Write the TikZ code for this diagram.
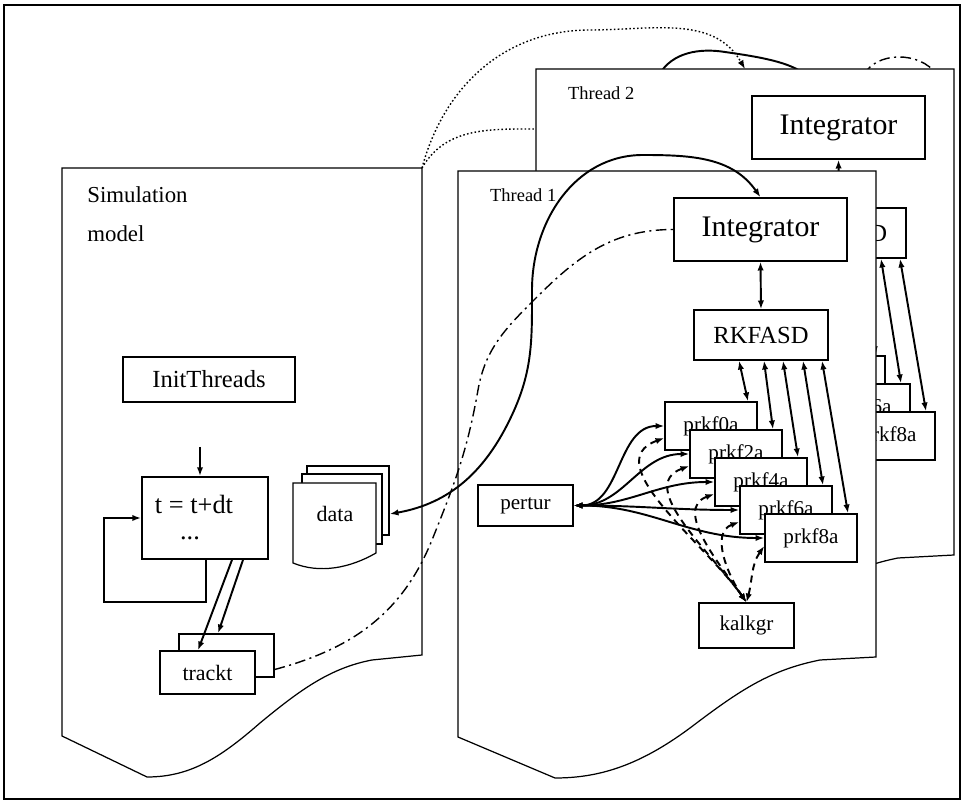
\documentclass[tikz,border=0pt]{standalone}
\usepackage{fontspec}
\setmainfont{Liberation Serif}
\usetikzlibrary{arrows.meta,calc}
\newcommand{\fz}[1]{\fontsize{#1}{#1}\selectfont}
\tikzset{
  arr/.tip={Latex[length=5pt,width=3.6pt]},
  bx/.style n args={2}{draw, fill=white, line width=0.8pt, minimum width=#1*0.02cm, minimum height=#2*0.02cm, inner sep=0pt},
  frame/.style={draw, fill=white, line width=0.7pt},
  dbl/.style={{arr}-{arr}, line width=1.1pt},
  one/.style={-{arr}, line width=1.1pt},
  dsh/.style={{arr}-{arr}, line width=1.1pt, dash pattern=on 4pt off 3pt},
  dashdot/.style={line width=0.8pt, dash pattern=on 6pt off 2.5pt on 1.2pt off 2.5pt},
  dots/.style={line width=0.8pt, dash pattern=on 0.9pt off 1.3pt},
}
\newcommand{\threadframe}{%
  \path[frame] (458,-171) -- (876,-171) -- (876,-657) -- (820,-660)
    .. controls (770,-670) and (740,-690) .. (690,-728)
    .. controls (640,-765) and (600,-778) .. (555,-778)
    -- (458,-737) -- cycle;}
% #1 prefix, #2 dx, #3 dy, #4 = 3 to label every box, 0 to label only boxes left uncovered
\newcommand{\threadbody}[4]{%
  \node[bx={173}{63}, font=\fz{17}] (#1integ) at ({760.5+#2},{-229.5+#3}) {Integrator\hspace{0.45cm}};
  \node[bx={134}{50}, font=\fz{14}] (#1rk) at ({761+#2},{-335+#3}) {\ifnum#4>0 RKFASD\fi};
  \draw[dbl] (#1integ.south) -- (#1rk.north);
  \node[bx={95}{41}, font=\fz{12}] (#1pertur) at ({525.5+#2},{-505.5+#3}) {\ifnum#4>0 pertur\fi};
  \node[bx={95}{45}, font=\fz{12}] (#1kalk) at ({746.5+#2},{-625.5+#3}) {\ifnum#4>0 kalkgr\fi};
  \foreach \i/\n in {0/0,1/2,2/4,3/6,4/8}{
    \node[bx={92}{48}, font=\fz{12}] (#1p\n) at ({711+25*\i+#2},{-426-28*\i+#3}) {\ifnum\numexpr#4+\i\relax>2 prkf\n a\fi};}
  \foreach \n/\dx in {0/-22,2/3,4/22,6/42,8/61}{
    \draw[dbl] ($(#1rk.south)+(\dx,0)$) -- ($(#1p\n.north)+(37,0)$);}
  \foreach \n in {0,2,4,6,8}{
    \draw[dbl] (#1pertur.east) to[out=0,in=180] (#1p\n.west);}
  \foreach \n in {0,2,4,6}{
    \draw[dsh] ($(#1p\n.west)+(0,-12)$) to[out=200,in=125] (#1kalk.north);}
  \draw[dsh] ($(#1p8.west)+(0,-8)$) to[out=235,in=75] (#1kalk.north);
}
\begin{document}
\begin{tikzpicture}[x=0.02cm,y=0.02cm]
\useasboundingbox (0,0) rectangle (964,-803);
\draw[line width=1pt] (4,-5) rectangle (960,-799);

% curves behind thread 2
\draw[line width=1.1pt] (659,-75) .. controls (672,-52) and (700,-48) .. (725,-52)
  .. controls (760,-57) and (790,-62) .. (806,-75);
\draw[dashdot] (864,-75) .. controls (875,-52) and (920,-50) .. (937,-75);

% Thread 2
\begin{scope}[shift={(78,102)}]
  \threadframe
\end{scope}
\threadbody{b}{78}{102}{0}
\node[anchor=east, inner sep=0pt, font=\fz{14}] (brktail) at (brk.center -| 887.5,0) {D};
\node[anchor=west, font=\fz{10.5}] (t2lbl) at (562,-93) {Thread 2};

% dotted links from simulation model
\coordinate (simc) at (422,-168);
\coordinate (t2top) at (745,-69);
\coordinate (t2left) at (536,-129);
\draw[dots, -{arr}] (simc) to[out=75,in=180] (590,-30) to[out=0,in=120] (t2top);
\draw[dots] (simc) to[out=60,in=180] (t2left);

% Thread 1
\threadframe
\threadbody{a}{0}{0}{3}
\node[anchor=west, font=\fz{10.5}] (t1lbl) at (484,-195) {Thread 1};

% Simulation model
\path[frame] (62,-168) -- (422,-168) -- (422,-655) -- (372,-660)
  .. controls (330,-668) and (300,-690) .. (260,-723)
  .. controls (220,-758) and (190,-777) .. (147,-777)
  -- (62,-736) -- cycle;
\node[anchor=north west, align=left, inner sep=0pt, font=\fontsize{13}{22.5}\selectfont] (simlbl) at (87,-186) {Simulation\\model};
\node[bx={172}{45}, font=\fz{14}] (init) at (209,-379.5) {InitThreads\hspace{0.45cm}};
\node[bx={126}{82}, line width=1pt] (loop) at (205,-518) {};
\node[inner sep=0pt, font=\fz{15}] (looptxt) at (194,-504) {t = t+dt};
\node[inner sep=0pt, font=\fz{15}] (loopdots) at (190,-538) {...};
\coordinate (loopin) at (200,-447);
\draw[one] (loopin) -- (loopin |- loop.north);
\coordinate (lp) at (104,-602);
\draw[one, line width=1.4pt] ($(loop.south)+(1,0)$) |- (lp) |- (loop.west);

\node[bx={95}{43}] (trb) at (226.5,-655.5) {};
\node[bx={95}{43}, font=\fz{12.5}] (trf) at (207.5,-672.5) {trackt\hspace{0.3cm}};
\draw[one] ($(loop.south)+(27,0)$) -- ($(trf.north)+(-9.5,0)$);
\draw[one] ($(loop.south)+(38,0)$) -- ($(trb.north)+(-8.5,0)$);

\node[bx={82}{69}] (data3) at (348,-500.5) {};
\node[bx={80}{70}] (data2) at (342,-509) {};
\path[frame] (293,-483) -- (376,-483) -- (376,-553)
  .. controls (350,-568) and (320,-574) .. (293,-563) -- cycle;
\node[font=\fz{12.5}] (data) at (335,-514) {data};

% links across frames
\draw[dbl] (data.east -| data3.east) to[out=10,in=-115] (512,-415)
  to[out=65,in=-90] (532,-290) to[out=90,in=180] (643,-155)
  to[out=0,in=125] (ainteg.north);
\draw[dashdot] ($(trb.east)+(0,-14)$) to[out=15,in=-112] (432,-540)
  to[out=68,in=-100] (478,-390) to[out=80,in=-135] (537,-297)
  to[out=45,in=180] (ainteg.west);
\end{tikzpicture}
\end{document}
